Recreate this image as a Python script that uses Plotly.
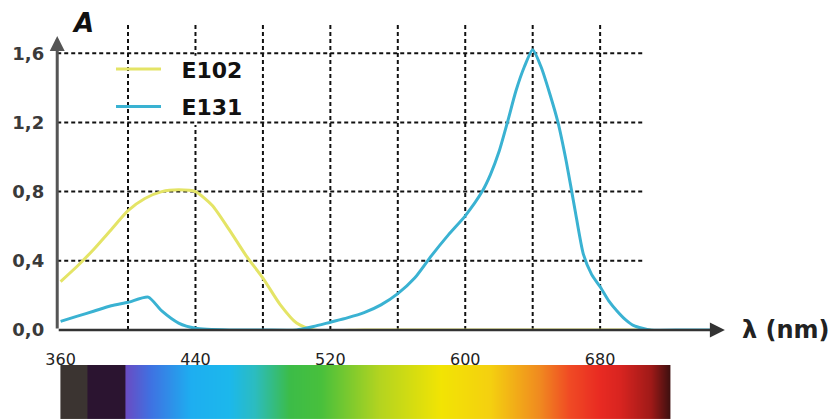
import plotly.graph_objects as go

# ---- data ----
wl_e102 = [360, 370, 380, 390, 400, 410, 420, 430, 440, 450, 460, 470, 480, 490, 500, 510, 540, 600, 660, 710]
abs_e102 = [0.28, 0.37, 0.47, 0.58, 0.69, 0.76, 0.80, 0.81, 0.80, 0.72, 0.58, 0.43, 0.30, 0.15, 0.04, 0.0, 0.0, 0.0, 0.0, 0.0]

wl_e131 = [360, 370, 380, 390, 400, 412, 420, 430, 440, 460, 480, 500, 510, 520, 530, 540, 550, 560, 570, 580,
           590, 600, 610, 615, 620, 625, 630, 635, 640, 645, 650, 655, 660, 665, 670, 675, 680, 685, 690, 695,
           700, 705, 710, 730, 748]
abs_e131 = [0.05, 0.08, 0.11, 0.14, 0.16, 0.19, 0.11, 0.04, 0.01, 0.0, 0.0, 0.0, 0.02, 0.045, 0.07, 0.10, 0.145, 0.21, 0.30, 0.43,
            0.55, 0.66, 0.80, 0.90, 1.03, 1.20, 1.38, 1.52, 1.62, 1.52, 1.37, 1.20, 0.97, 0.70, 0.44, 0.32, 0.25, 0.17, 0.11, 0.06,
            0.025, 0.01, 0.0, 0.0, 0.0]

y_grid = [0.4, 0.8, 1.2, 1.6]
x_grid = [400, 440, 480, 520, 560, 600, 640, 680]
x_ticks = [360, 440, 520, 600, 680]
y_ticks = [0.0, 0.4, 0.8, 1.2, 1.6]
y_tick_text = ["0,0", "0,4", "0,8", "1,2", "1,6"]

spectrum_nm = [360, 360.2, 375.6, 375.8, 398.0, 398.2, 413, 437, 460, 475, 496, 514, 549, 585, 615, 644, 662, 680, 692, 710, 721.3, 721.5]
spectrum_colors = ['#3b3431', '#3b3431', '#3b3431', '#2b1430', '#2b1430', '#6a4cc4', '#3f72e2', '#1eaef0', '#1cb8ec',
                   '#2cbcc0', '#3cbc48', '#48c03c', '#b4d420', '#f2e404', '#f4d010', '#f08a20', '#f04a24', '#e82a22',
                   '#d82420', '#a01a18', '#401010', '#401010']

X0, X1 = 358, 754
Y1 = 1.8

fig = go.Figure()

fig.add_trace(go.Scatter(x=wl_e102, y=abs_e102, mode='lines', name='\u2002\u2009E102', legendgroup='a',
                         line=dict(color='#e4e466', width=3, shape='spline', smoothing=0.6)))
fig.add_trace(go.Scatter(x=wl_e131, y=abs_e131, mode='lines', name='\u2002\u2009E131', legendgroup='b',
                         line=dict(color='#3ab2d2', width=3, shape='spline', smoothing=0.6)))

# spectrum bar
zmin, zmax = spectrum_nm[0], spectrum_nm[-1]
cs = []
for nm, c in zip(spectrum_nm, spectrum_colors):
    cs.append([(nm - zmin) / (zmax - zmin), c])
fig.add_trace(go.Heatmap(x=spectrum_nm, y=[0], z=[spectrum_nm], colorscale=cs, zmin=zmin, zmax=zmax,
                         zsmooth='best', showscale=False, hoverinfo='skip', xaxis='x2', yaxis='y2'))

shapes = []
grid_line = dict(color='#111111', width=2, dash='4px,3px')
for xv in x_grid:
    shapes.append(dict(type='line', xref='x', yref='y', x0=xv, x1=xv, y0=0, y1=1.78, line=grid_line, layer='below'))
# white box behind legend text
shapes.append(dict(type='rect', xref='x', yref='y', x0=427, x1=477, y0=1.185, y1=1.585,
                   fillcolor='white', line=dict(width=0), layer='below'))
for yv in y_grid:
    shapes.append(dict(type='line', xref='x', yref='y', x0=X0, x1=706, y0=yv, y1=yv, line=grid_line, layer='below'))

annotations = [
    # x axis arrow
    dict(x=X1, y=0, ax=X0, ay=0, xref='x', yref='y', axref='x', ayref='y', text='', showarrow=True,
         arrowhead=2, arrowsize=1.2, arrowwidth=2.5, arrowcolor='#333333'),
    # y axis arrow
    dict(x=X0, y=1.70, ax=X0, ay=0, xref='x', yref='y', axref='x', ayref='y', text='', showarrow=True,
         arrowhead=2, arrowsize=1, arrowwidth=3, arrowcolor='#555555'),
    dict(x=0.882, y=0, xref='paper', yref='y', text='λ (nm)', showarrow=False, xanchor='left', yanchor='middle',
         font=dict(family='DejaVu Sans', size=24, color='#222222', weight='bold')),
    dict(x=0.084, y=1.0, xref='paper', yref='paper', text='<i>A</i>', showarrow=False, xanchor='left', yanchor='top',
         yshift=-6, font=dict(family='DejaVu Sans', size=26, color='#111111', weight='bold')),
]

fig.update_layout(
    width=839, height=419,
    margin=dict(l=0, r=0, t=0, b=0, autoexpand=False),
    paper_bgcolor='white', plot_bgcolor='rgba(0,0,0,0)',
    showlegend=True,
    legend=dict(x=0.1323, y=0.885, xanchor='left', yanchor='top', bgcolor='rgba(0,0,0,0)',
                font=dict(family='DejaVu Sans', size=22, color='#111111', weight='bold'),
                tracegroupgap=6, itemwidth=45),
    xaxis=dict(domain=[0.0682, 0.864], range=[X0, X1], showgrid=False, zeroline=False, showline=False,
               showticklabels=False, ticks='', anchor='y', automargin=False),
    yaxis=dict(domain=[0.2124, 0.9556], range=[0, Y1], showgrid=False, zeroline=False, showline=False,
               tickvals=y_ticks, ticktext=y_tick_text, ticks='', ticklabelstandoff=12, automargin=False,
               tickfont=dict(family='DejaVu Sans', size=18, color='#3a3a3a', weight='bold'), anchor='x'),
    xaxis2=dict(domain=[0.0682, 0.864], range=[X0, X1], matches='x', anchor='y2', side='top',
                tickvals=x_ticks, ticks='', showgrid=False, zeroline=False, showline=False,
                ticklabelstandoff=-4, automargin=False,
                tickfont=dict(family='DejaVu Sans', size=16, color='#222222')),
    yaxis2=dict(domain=[0, 0.129], range=[-0.5, 0.5], visible=False, anchor='x2', automargin=False),
    shapes=shapes,
    annotations=annotations,
)

fig.write_html("out.html", config={'displayModeBar': False},
               post_script="document.body.style.margin='0';document.body.style.overflow='hidden';")
